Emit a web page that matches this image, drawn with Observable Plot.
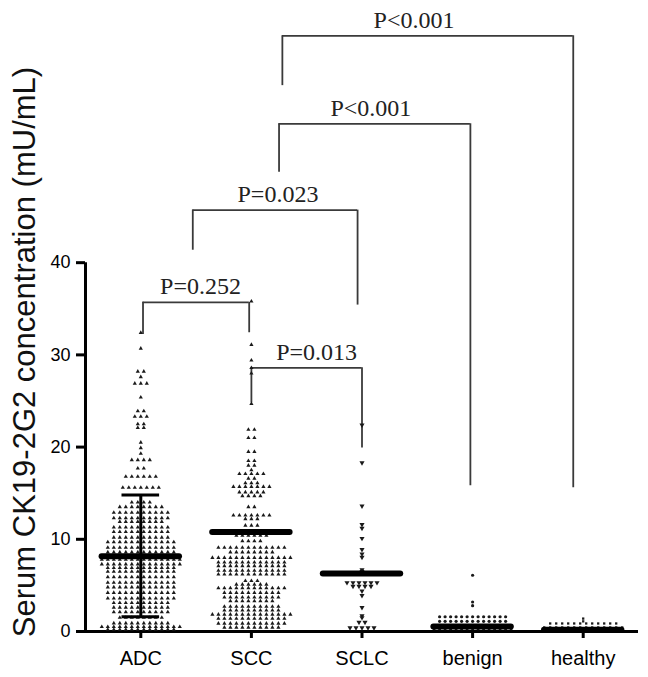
<!DOCTYPE html>
<html><head><meta charset="utf-8">
<script src="https://cdn.jsdelivr.net/npm/d3@7"></script>
<script src="https://cdn.jsdelivr.net/npm/@observablehq/plot@0.6"></script>
<style>
html,body{margin:0;padding:0;background:#fff;}
#chart svg{display:block;}
#chart svg g[aria-label="x-axis tick"] path,
#chart svg g[aria-label="y-axis tick"] path,
#chart svg g[aria-label="x-axis"] line,
#chart svg g[aria-label="y-axis"] line{stroke-width:3;}
#chart svg g[aria-label="x-axis tick label"] text,
#chart svg g[aria-label="x-axis"] text{font-size:20px;}
</style></head><body><div id="chart"></div>
<script>
// ---- data ----
const categories = ["ADC", "SCC", "SCLC", "benign", "healthy"];
const yTicks = [0, 10, 20, 30, 40];
// dot rows: [value (mU/mL), number of dots in that row]
const adcRows = [[32.4,1],[30.7,1],[28.2,2],[27.6,1],[26.9,3],[25.4,1],[23.9,2],[23.3,3],[22.5,2],[22.1,2],[20.5,1],[19.9,1],[19.3,1],[18.6,4],[17.7,2],[16.8,6],[15.6,7],[14.0,4],[13.5,8],[12.9,10],[12.3,10],[11.9,8],[11.3,10],[10.8,10],[10.2,10],[9.7,12],[9.1,12],[8.6,12],[7.8,14],[7.3,14],[6.9,12],[6.5,12],[5.9,12],[5.3,12],[4.8,12],[4.2,12],[3.6,12],[3.1,10],[2.6,10],[2.1,10],[1.5,8],[0.9,10],[0.5,14],[0.2,12]];
const sccRows = [[35.8,1],[31.1,1],[29.4,1],[28.6,1],[28.0,1],[24.7,1],[21.9,2],[21.0,2],[19.5,2],[18.5,2],[18.0,2],[17.5,1],[17.1,5],[16.6,2],[16.1,3],[15.7,7],[15.1,5],[14.7,4],[13.5,2],[12.6,7],[12.2,3],[11.5,3],[10.4,6],[9.8,4],[9.1,12],[8.6,8],[8.0,14],[7.5,12],[7.1,12],[6.6,12],[6.2,12],[5.5,3],[5.1,6],[4.7,12],[4.2,10],[3.7,10],[3.3,8],[2.7,10],[2.3,10],[1.85,14],[1.4,12],[0.87,12],[0.44,10]];
const sclcRows = [[22.4,1],[18.3,1],[13.6,1],[11.6,1],[11.2,1],[10.1,1],[8.9,1],[8.4,1],[8.05,1],[6.7,1],[6.5,1],[5.3,6],[4.9,4],[4.4,1],[3.9,1],[2.6,1],[1.7,1],[1.5,1],[1.0,2],[0.4,5]];
const benignRows = [[6.1,1],[3.2,1],[2.8,1],[1.6,13],[1.1,13],[0.65,15],[0.3,15]];
const healthyRows = [[1.4,1],[1.1,1],[0.87,12],[0.44,14],[0.1,14]];
const groupMeans = [8.15, 10.8, 6.3, 0.55, 0.2];
const adcSD = [1.6, 14.8]; // error bar on ADC
// comparison brackets
const bracketLabels = ["P=0.252", "P=0.013", "P=0.023", "P<0.001", "P<0.001"];
const bracketFrom   = [0.02, 1.0, 0.47, 1.25, 1.28];
const bracketTo     = [0.98, 2.0, 1.96, 2.98, 3.91];
const bracketTop    = [35.7, 28.6, 45.7, 55.06, 64.6];
const bracketLeftEnd  = [32.2, 24.8, 41.35, 49.8, 59.2];
const bracketRightEnd = [32.4, 19.9, 35.4, 15.8, 15.6];
const bracketLabelX = [0.54, 1.59, 1.24, 2.08, 2.47];

// ---- layout ----
const W = 648, H = 677, mL = 85, mR = 10, mT = 4, mB = 46;
const xDomain = [-0.5, 4.5];
const step = (W - mL - mR) / (xDomain[1] - xDomain[0]);
function expand(rows, gi, spacingPx) {
  const out = [];
  for (const [v, n] of rows)
    for (let k = 0; k < n; k++)
      out.push({g: gi, x: gi + (k - (n - 1) / 2) * spacingPx / step, y: v});
  return out;
}
const adcDots = expand(adcRows, 0, 6);
const sccDots = expand(sccRows, 1, 6);
const sclcDots = expand(sclcRows, 2, 6);
const benignDots = expand(benignRows, 3, 5.5);
const healthyDots = expand(healthyRows, 4, 6);

const triangleDown = {
  draw(context, size) {
    const s3 = Math.sqrt(3);
    const y = -Math.sqrt(size / (s3 * 3));
    context.moveTo(0, -y * 2);
    context.lineTo(-s3 * y, y);
    context.lineTo(s3 * y, y);
    context.closePath();
  }
};

const means = groupMeans.map((m, i) => ({i, m}));
const brackets = bracketLabels.map((label, i) => ({
  label, x1: bracketFrom[i], x2: bracketTo[i], top: bracketTop[i],
  left: bracketLeftEnd[i], right: bracketRightEnd[i], lx: bracketLabelX[i]
}));
const lineColor = "#3a3a3a";
const serif = "'Liberation Serif', 'Times New Roman', serif";

const chart = Plot.plot({
  width: W, height: H,
  marginLeft: mL, marginRight: mR, marginTop: mT, marginBottom: mB,
  style: {fontFamily: "'Liberation Sans', Arial, sans-serif", fontSize: "18px", color: "#000", background: "#fff", overflow: "visible"},
  x: {domain: xDomain, ticks: [0, 1, 2, 3, 4], tickFormat: i => categories[i], tickSize: 7, tickPadding: 12, label: null},
  y: {domain: [0, 68], ticks: yTicks, tickSize: 9, tickPadding: 6, label: null},
  marks: [
    // axis lines
    Plot.ruleX([xDomain[0]], {x: d => d, y1: 0, y2: d3.max(yTicks), strokeWidth: 3, stroke: "#000"}),
    Plot.ruleY([0], {y: d => d, x1: xDomain[0], x2: xDomain[1], strokeWidth: 3, stroke: "#000"}),
    // brackets
    Plot.ruleY(brackets, {y: "top", x1: "x1", x2: "x2", stroke: lineColor, strokeWidth: 1.8}),
    Plot.ruleX(brackets, {x: "x1", y1: "left", y2: "top", stroke: lineColor, strokeWidth: 1.8}),
    Plot.ruleX(brackets, {x: "x2", y1: "right", y2: "top", stroke: lineColor, strokeWidth: 1.8}),
    Plot.text(brackets, {x: "lx", y: "top", text: "label", lineAnchor: "bottom", dy: -8, fontFamily: serif, fontSize: 24, fill: "#222"}),
    // dots
    Plot.dot(adcDots, {x: "x", y: "y", symbol: "triangle", r: 1.55, fill: "#1a1a1a", stroke: "none"}),
    Plot.dot(sccDots, {x: "x", y: "y", symbol: "triangle", r: 1.55, fill: "#1a1a1a", stroke: "none"}),
    Plot.dot(sclcDots, {x: "x", y: "y", symbol: triangleDown, r: 1.9, fill: "#1a1a1a", stroke: "none"}),
    Plot.dot(benignDots, {x: "x", y: "y", symbol: "circle", r: 1.6, fill: "#1a1a1a", stroke: "none"}),
    Plot.dot(healthyDots, {x: "x", y: "y", symbol: "square", r: 1.3, fill: "#1a1a1a", stroke: "none"}),
    // ADC error bar (SD)
    Plot.ruleX([adcSD], {x: 0, y1: d => d[0], y2: d => d[1], strokeWidth: 3, stroke: "#000"}),
    Plot.ruleY(adcSD, {y: d => d, x1: -0.17, x2: 0.17, strokeWidth: 3, stroke: "#000"}),
    // mean bars
    Plot.ruleY(means, {y: "m", x1: d => d.i - 0.35, x2: d => d.i + 0.35, strokeWidth: 6, stroke: "#000", strokeLinecap: "round"}),
    // y title
    Plot.text(["Serum CK19-2G2 concentration (mU/mL)"], {frameAnchor: "left", text: d => d, rotate: -90, textAnchor: "middle", dx: -60, dy: 34, fontSize: 31, fill: "#111"})
  ]
});
document.getElementById("chart").appendChild(chart);
</script></body></html>
